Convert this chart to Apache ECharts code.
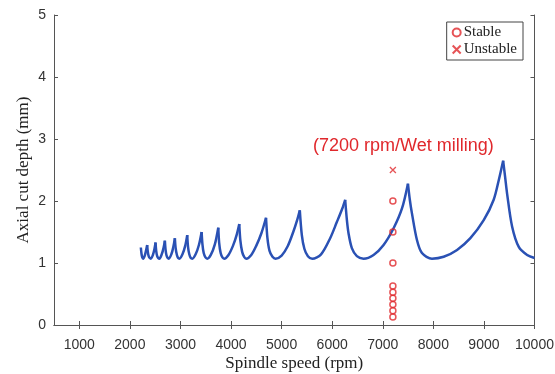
<!DOCTYPE html>
<html>
<head>
<meta charset="utf-8">
<script src="https://cdn.jsdelivr.net/npm/echarts@6/dist/echarts.min.js"></script>
<style>
  html, body { margin: 0; padding: 0; background: #fff; }
  #main { width: 555px; height: 374px; }
</style>
</head>
<body>
<div id="main"></div>
<script>
// stability lobes: one array per lobe [rpm, depth mm]
const lobes = [
  [[2217, 1.25], [2230, 1.15], [2245, 1.09], [2262, 1.07], [2295, 1.12], [2320, 1.20], [2342, 1.29]],
  [[2342, 1.29], [2355, 1.18], [2372, 1.11], [2393, 1.08], [2415, 1.07], [2455, 1.13], [2485, 1.22], [2508, 1.33]],
  [[2508, 1.33], [2520, 1.20], [2540, 1.11], [2562, 1.08], [2585, 1.07], [2630, 1.14], [2665, 1.24], [2692, 1.36]],
  [[2692, 1.36], [2705, 1.22], [2725, 1.12], [2748, 1.08], [2770, 1.07], [2820, 1.14], [2860, 1.26], [2890, 1.40]],
  [[2890, 1.40], [2905, 1.24], [2930, 1.13], [2955, 1.08], [2980, 1.07], [3040, 1.14], [3095, 1.28], [3134, 1.45]],
  [[3134, 1.45], [3150, 1.26], [3175, 1.14], [3205, 1.08], [3235, 1.07], [3300, 1.14], [3365, 1.29], [3419, 1.50]],
  [[3419, 1.50], [3435, 1.30], [3460, 1.16], [3495, 1.09], [3530, 1.07], [3600, 1.13], [3680, 1.30], [3748, 1.57]],
  [[3748, 1.57], [3765, 1.33], [3795, 1.16], [3830, 1.09], [3865, 1.07], [3950, 1.13], [4040, 1.28], [4110, 1.45], [4163, 1.63]],
  [[4163, 1.63], [4185, 1.36], [4220, 1.18], [4260, 1.10], [4300, 1.07], [4400, 1.13], [4500, 1.28], [4600, 1.48], [4692, 1.73]],
  [[4692, 1.73], [4720, 1.40], [4760, 1.20], [4820, 1.10], [4880, 1.07], [5000, 1.12], [5120, 1.27], [5230, 1.50], [5310, 1.70], [5360, 1.85]],
  [[5360, 1.85], [5400, 1.45], [5450, 1.23], [5520, 1.11], [5605, 1.07], [5780, 1.14], [5960, 1.40], [6092, 1.66], [6200, 1.88], [6257, 2.02]],
  [[6257, 2.02], [6290, 1.70], [6323, 1.48], [6389, 1.24], [6488, 1.11], [6619, 1.07], [6818, 1.13], [7016, 1.29], [7214, 1.56], [7380, 1.88], [7498, 2.28]],
  [[7498, 2.28], [7535, 2.02], [7577, 1.80], [7676, 1.37], [7775, 1.16], [7973, 1.07], [8204, 1.10], [8469, 1.21], [8732, 1.40], [8996, 1.69], [9193, 2.02], [9300, 2.36], [9380, 2.65]],
  [[9380, 2.65], [9420, 2.38], [9458, 2.12], [9557, 1.59], [9689, 1.26], [9855, 1.13], [10000, 1.08]]
];

// cutting tests at 7200 rpm
const testSpeed = 7200;
const stableDepths = [0.13, 0.23, 0.33, 0.43, 0.53, 0.63, 1.0, 1.5, 2.0];
const unstableDepths = [2.5];

const xTicks = [1000, 2000, 3000, 4000, 5000, 6000, 7000, 8000, 9000, 10000];

const red = '#e0282c';
const blue = '#2a51b4';
const axisColor = '#555';
const crossPath = 'path://M0,0L10,10M10,0L0,10';

const chart = echarts.init(document.getElementById('main'));

const lobeSeries = lobes.map((pts, i) => ({
  name: 'lobe' + i,
  type: 'line',
  data: pts,
  smooth: 0.3,
  showSymbol: false,
  lineStyle: { color: blue, width: 2.5 },
  z: 2,
  silent: true
}));

const hiddenAxis = {
  axisLine: { show: true, lineStyle: { color: axisColor } },
  axisTick: { show: true, inside: true, length: 4, lineStyle: { color: axisColor } },
  axisLabel: { show: false },
  splitLine: { show: false }
};

const option = {
  backgroundColor: '#fff',
  animation: false,
  textStyle: { fontFamily: 'Liberation Sans' },
  grid: { left: 54, right: 20.5, top: 15, bottom: 49, containLabel: false, outerBoundsMode: 'none' },
  legend: {
    data: ['Stable', 'Unstable'],
    orient: 'vertical',
    right: 32,
    top: 22,
    borderColor: '#444',
    borderWidth: 1,
    padding: [3, 6, 3, 5],
    itemGap: 2,
    itemWidth: 8,
    itemHeight: 8,
    textStyle: { fontFamily: 'Liberation Serif', fontSize: 15, color: '#222', lineHeight: 15, padding: [0, 0, 0, -2] }
  },
  xAxis: [
    {
      type: 'value',
      min: 500,
      max: 10000,
      name: 'Spindle speed (rpm)',
      nameLocation: 'middle',
      nameGap: 30,
      nameMoveOverlap: false,
      nameTextStyle: { fontFamily: 'Liberation Serif', fontSize: 17, color: '#222' },
      axisLine: { show: true, lineStyle: { color: axisColor } },
      axisTick: { show: true, inside: true, length: 4, customValues: xTicks, lineStyle: { color: axisColor } },
      axisLabel: {
        customValues: xTicks,
        margin: 13,
        fontFamily: 'Liberation Sans',
        fontSize: 14,
        color: '#333',
        formatter: v => String(v)
      },
      splitLine: { show: false }
    },
    Object.assign({ type: 'value', min: 500, max: 10000, position: 'top' }, hiddenAxis, {
      axisTick: { show: true, inside: true, length: 4, customValues: xTicks, lineStyle: { color: axisColor } }
    })
  ],
  yAxis: [
    {
      type: 'value',
      min: 0,
      max: 5,
      interval: 1,
      name: 'Axial cut depth (mm)',
      nameLocation: 'middle',
      nameGap: 22,
      nameMoveOverlap: false,
      nameTextStyle: { fontFamily: 'Liberation Serif', fontSize: 17, color: '#222' },
      axisLine: { show: true, lineStyle: { color: axisColor } },
      axisTick: { show: true, inside: true, length: 4, lineStyle: { color: axisColor } },
      axisLabel: { margin: 8, fontFamily: 'Liberation Sans', fontSize: 14, color: '#333' },
      splitLine: { show: false }
    },
    Object.assign({ type: 'value', min: 0, max: 5, interval: 1, position: 'right' }, hiddenAxis)
  ],
  graphic: [
    {
      type: 'text',
      left: 313,
      top: 137,
      style: {
        text: '(7200 rpm/Wet milling)',
        fontFamily: 'Liberation Sans',
        fontSize: 18,
        fill: red
      }
    }
  ],
  series: lobeSeries.concat([
    {
      name: 'Stable',
      type: 'scatter',
      data: stableDepths.map(d => [testSpeed, d]),
      symbol: 'circle',
      symbolSize: 6,
      itemStyle: { color: 'rgba(0,0,0,0)', borderColor: red, borderWidth: 1.5 },
      z: 3
    },
    {
      name: 'Unstable',
      type: 'scatter',
      data: unstableDepths.map(d => [testSpeed, d]),
      symbol: crossPath,
      symbolSize: 6,
      itemStyle: { color: 'rgba(0,0,0,0)', borderColor: red, borderWidth: 1.3 },
      z: 3
    }
  ])
};

chart.setOption(option);
</script>
</body>
</html>
